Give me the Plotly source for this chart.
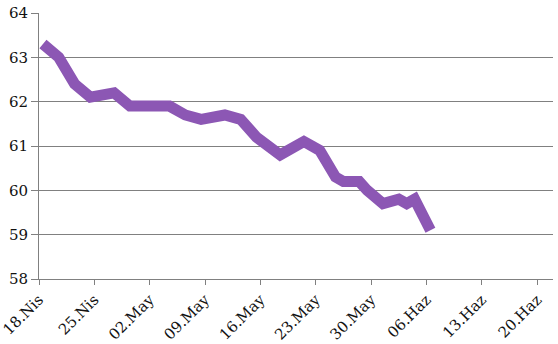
import plotly.graph_objects as go

dates = ["2019-04-18", "2019-04-20", "2019-04-22", "2019-04-24", "2019-04-27",
         "2019-04-29", "2019-05-04", "2019-05-06", "2019-05-08", "2019-05-11",
         "2019-05-13", "2019-05-15", "2019-05-18", "2019-05-21", "2019-05-23",
         "2019-05-25", "2019-05-26", "2019-05-28", "2019-05-29", "2019-05-31",
         "2019-06-02", "2019-06-03", "2019-06-04", "2019-06-06"]
values = [63.3, 63.0, 62.4, 62.1, 62.2,
          61.9, 61.9, 61.7, 61.6, 61.7,
          61.6, 61.2, 60.8, 61.1, 60.9,
          60.3, 60.2, 60.2, 60.0, 59.7,
          59.8, 59.7, 59.8, 59.1]

tick_dates = ["2019-04-18", "2019-04-25", "2019-05-02", "2019-05-09", "2019-05-16",
              "2019-05-23", "2019-05-30", "2019-06-06", "2019-06-13", "2019-06-20"]
tick_labels = ["18.Nis", "25.Nis", "02.May", "09.May", "16.May",
               "23.May", "30.May", "06.Haz", "13.Haz", "20.Haz"]

x_pts = [d + " 12:00" for d in dates]

fig = go.Figure()
fig.add_trace(go.Scatter(
    x=x_pts, y=values, mode="lines",
    line=dict(color="#8C57B4", width=11, shape="linear"),
    hoverinfo="skip",
))

serif = "DejaVu Serif"

fig.update_layout(
    width=558, height=344,
    margin=dict(l=39, r=5, t=13, b=65),
    paper_bgcolor="white", plot_bgcolor="white",
    showlegend=False,
    font=dict(family=serif, size=14, color="#111111"),
    xaxis=dict(
        type="date",
        automargin=False,
        range=["2019-04-18", "2019-06-22"],
        tickmode="array",
        tickvals=tick_dates, ticktext=tick_labels,
        tickangle=-45,
        ticklabeloverflow="allow",
        showgrid=False,
        showline=True, linecolor="#808080", linewidth=1,
        ticks="outside", ticklen=5, tickcolor="#808080",
        tickfont=dict(family=serif, size=15, color="#111111"),
        zeroline=False,
    ),
    yaxis=dict(
        automargin=False,
        range=[58, 64],
        tickmode="array",
        tickvals=[58, 59, 60, 61, 62, 63, 64],
        showgrid=True, gridcolor="#808080", gridwidth=1,
        showline=True, linecolor="#808080", linewidth=1,
        ticks="outside", ticklen=7, tickcolor="#808080",
        tickfont=dict(family=serif, size=15, color="#111111"),
        zeroline=False,
    ),
)

fig.write_html("out.html")
